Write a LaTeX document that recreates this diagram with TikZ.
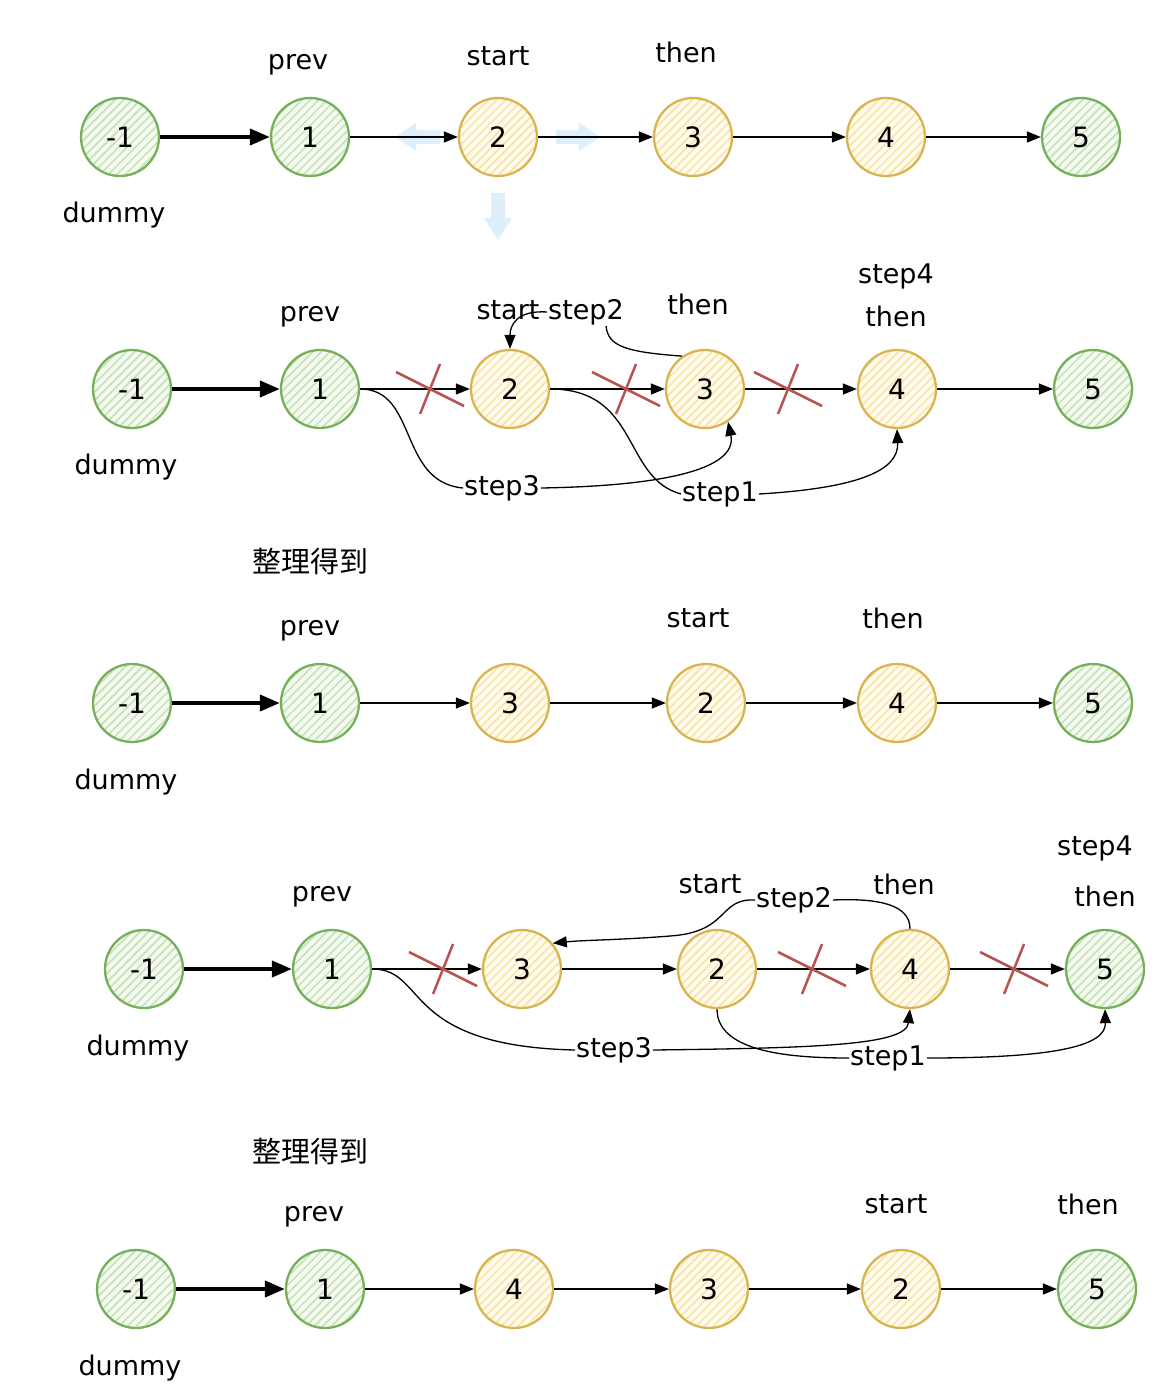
\documentclass[tikz,border=0pt]{standalone}
\usepackage{fontspec}
\setmainfont{DejaVu Sans}
\newfontfamily\cjk{Noto Sans CJK SC}
\usetikzlibrary{arrows.meta,patterns.meta}
\definecolor{gstroke}{HTML}{76B05A}
\definecolor{ghatch}{HTML}{C4E0B6}
\definecolor{gbg}{HTML}{F4FAF0}
\definecolor{ystroke}{HTML}{D8B550}
\definecolor{yhatch}{HTML}{F9E3A2}
\definecolor{ybg}{HTML}{FFFBEE}
\definecolor{xred}{HTML}{B85450}
\definecolor{lblue}{HTML}{DDEFFB}
\begin{document}
\begin{tikzpicture}[x=1pt,y=-1pt,
  cnode/.style={circle, minimum size=78pt, inner sep=0pt, line width=2.3pt, font=\fontsize{28}{30}\selectfont},
  gn/.style={cnode, draw=gstroke, preaction={fill=gbg}, pattern={Lines[angle=45,distance=6pt,line width=1.5pt]}, pattern color=ghatch},
  yn/.style={cnode, draw=ystroke, preaction={fill=ybg}, pattern={Lines[angle=45,distance=6pt,line width=1.5pt]}, pattern color=yhatch},
  lbl/.style={inner sep=1pt, font=\fontsize{27}{29}\selectfont},
  cj/.style={inner sep=1pt, font=\cjk\fontsize{29}{31}\selectfont},
  arr/.style={-{Triangle[length=14pt,width=11pt]}, line width=1.3pt},
  tarr/.style={-{Triangle[length=20pt,width=16pt]}, line width=4pt},
  curve/.style={line width=1.3pt},
  xmark/.pic={\draw[xred, line width=2.5pt] (-34,-17) -- (34,17);
              \draw[xred, line width=2.5pt] (10,-25) -- (-10,25);}
]
\fill[white] (0,0) rectangle (1174,1386);
\useasboundingbox (0,0) rectangle (1174,1386);

% ---------- Row A ----------
\node[gn] (A0) at (120,137) {-1};
\node[gn] (A1) at (310,137) {1};
\node[yn] (A2) at (498,137) {2};
\node[yn] (A3) at (693,137) {3};
\node[yn] (A4) at (886,137) {4};
\node[gn] (A5) at (1081,137) {5};
\node[lbl] (Ap) at (298,65) {prev};
\node[lbl] (As) at (498,56) {start};
\node[lbl] (At) at (686,52) {then};
\node[lbl] (Ad) at (114,215) {dummy};
\fill[lblue] (395,137) -- (416,123) -- (416,130) -- (440,130) -- (440,144) -- (416,144) -- (416,151) -- cycle;
\fill[lblue] (600,137) -- (579,123) -- (579,130) -- (556,130) -- (556,144) -- (579,144) -- (579,151) -- cycle;
\fill[lblue] (498,240) -- (484,218) -- (491,218) -- (491,193) -- (505,193) -- (505,218) -- (512,218) -- cycle;
\draw[tarr] (A0) -- (A1);
\draw[arr] (A1) -- (A2);
\draw[arr] (A2) -- (A3);
\draw[arr] (A3) -- (A4);
\draw[arr] (A4) -- (A5);

% ---------- Row B ----------
\node[gn] (B0) at (132,389) {-1};
\node[gn] (B1) at (320,389) {1};
\node[yn] (B2) at (510,389) {2};
\node[yn] (B3) at (705,389) {3};
\node[yn] (B4) at (897,389) {4};
\node[gn] (B5) at (1093,389) {5};
\node[lbl] (Bp) at (310,317) {prev};
\node[lbl] (Bs) at (508,310) {start};
\node[lbl] (Bs2) at (586,312) {step2};
\node[lbl] (Bt) at (698,304) {then};
\node[lbl] (Bs4) at (896,276) {step4};
\node[lbl] (Bt2) at (896,316) {then};
\node[lbl] (Bd) at (126,467) {dummy};
\node[lbl] (Bs3) at (502,488) {step3};
\node[lbl] (Bs1) at (720,494) {step1};
\draw[tarr] (B0) -- (B1);
\draw[arr] (B1) -- (B2);
\draw[arr] (B2) -- (B3);
\draw[arr] (B3) -- (B4);
\draw[arr] (B4) -- (B5);
\pic at (430,389) {xmark};
\pic at (626,389) {xmark};
\pic at (788,389) {xmark};
\draw[curve] (B1.east) .. controls (418,389) and (398,482) .. (Bs3.west);
\draw[arr] (Bs3.east) .. controls (660,486) and (738,470) .. (B3.-55);
\draw[curve] (B2.east) .. controls (640,389) and (622,478) .. (Bs1.west);
\draw[arr] (Bs1.east) .. controls (860,488) and (899,470) .. (B4.south);
\draw[curve] (B3.125) .. controls (625,352) and (608,346) .. (Bs2.-35);
\draw[arr] (Bs2.west) .. controls (516,310) and (510,326) .. (B2.north);

% ---------- Row C ----------
\node[cj] (Cz) at (310,561) {整理得到};
\node[gn] (C0) at (132,703) {-1};
\node[gn] (C1) at (320,703) {1};
\node[yn] (C2) at (510,703) {3};
\node[yn] (C3) at (706,703) {2};
\node[yn] (C4) at (897,703) {4};
\node[gn] (C5) at (1093,703) {5};
\node[lbl] (Cp) at (310,631) {prev};
\node[lbl] (Cs) at (698,618) {start};
\node[lbl] (Ct) at (893,618) {then};
\node[lbl] (Cd) at (126,782) {dummy};
\draw[tarr] (C0) -- (C1);
\draw[arr] (C1) -- (C2);
\draw[arr] (C2) -- (C3);
\draw[arr] (C3) -- (C4);
\draw[arr] (C4) -- (C5);

% ---------- Row D ----------
\node[gn] (D0) at (144,969) {-1};
\node[gn] (D1) at (332,969) {1};
\node[yn] (D2) at (522,969) {3};
\node[yn] (D3) at (717,969) {2};
\node[yn] (D4) at (910,969) {4};
\node[gn] (D5) at (1105,969) {5};
\node[lbl] (Dp) at (322,897) {prev};
\node[lbl] (Ds) at (710,884) {start};
\node[lbl] (Ds2) at (794,900) {step2};
\node[lbl] (Dt) at (904,884) {then};
\node[lbl] (Ds4) at (1095,848) {step4};
\node[lbl] (Dt2) at (1105,896) {then};
\node[lbl] (Dd) at (138,1048) {dummy};
\node[lbl] (Ds3) at (614,1050) {step3};
\node[lbl] (Ds1) at (888,1058) {step1};
\draw[tarr] (D0) -- (D1);
\draw[arr] (D1) -- (D2);
\draw[arr] (D2) -- (D3);
\draw[arr] (D3) -- (D4);
\draw[arr] (D4) -- (D5);
\pic at (443,969) {xmark};
\pic at (812,969) {xmark};
\pic at (1014,969) {xmark};
\draw[curve] (D1.east) .. controls (428,969) and (400,1046) .. (Ds3.west);
\draw[arr] (Ds3.east) .. controls (820,1048) and (906,1045) .. (D4.south);
\draw[curve] (D3.south) .. controls (717,1052) and (790,1058) .. (Ds1.west);
\draw[arr] (Ds1.east) .. controls (1060,1058) and (1106,1045) .. (D5.south);
\draw[curve] (D4.north) .. controls (910,905) and (880,898) .. (Ds2.east);
\draw[arr] (Ds2.west) .. controls (718,898) and (730,932) .. (670,936) .. controls (620,940) and (585,940) .. (D2.40);

% ---------- Row E ----------
\node[cj] (Ez) at (310,1151) {整理得到};
\node[gn] (E0) at (136,1289) {-1};
\node[gn] (E1) at (325,1289) {1};
\node[yn] (E2) at (514,1289) {4};
\node[yn] (E3) at (709,1289) {3};
\node[yn] (E4) at (901,1289) {2};
\node[gn] (E5) at (1097,1289) {5};
\node[lbl] (Ep) at (314,1217) {prev};
\node[lbl] (Es) at (896,1204) {start};
\node[lbl] (Et) at (1088,1204) {then};
\node[lbl] (Ed) at (130,1368) {dummy};
\draw[tarr] (E0) -- (E1);
\draw[arr] (E1) -- (E2);
\draw[arr] (E2) -- (E3);
\draw[arr] (E3) -- (E4);
\draw[arr] (E4) -- (E5);
\end{tikzpicture}
\end{document}
